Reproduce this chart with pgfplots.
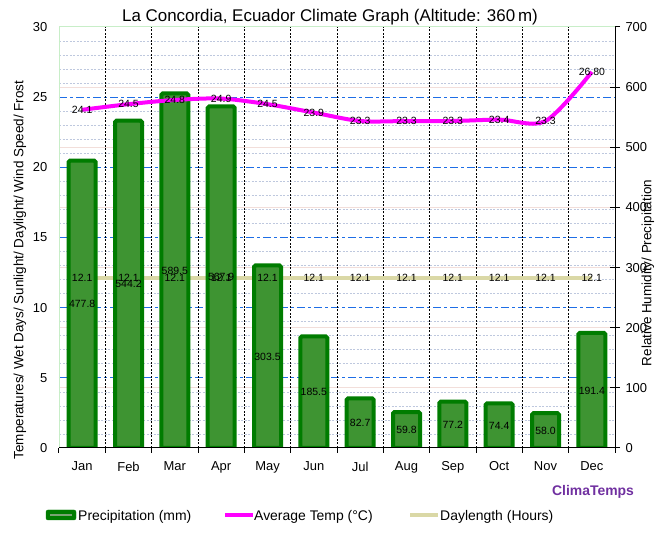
\documentclass[border=0pt]{standalone}
\usepackage{fontspec}
\setmainfont{Liberation Sans}
\usepackage{pgfplots}
\usepackage{pgfplotstable}
\pgfplotsset{compat=1.18}

\definecolor{barfill}{RGB}{62,148,50}
\definecolor{barline}{RGB}{0,124,0}
\definecolor{tempc}{RGB}{255,0,255}
\definecolor{dayc}{RGB}{218,216,166}
\definecolor{blueline}{HTML}{1E6EE6}
\definecolor{paleline}{HTML}{BEC8DE}
\definecolor{pinkline}{HTML}{F2DEDA}
\definecolor{edge}{RGB}{200,238,200}
\definecolor{brand}{RGB}{112,48,160}

\newcommand\fs[1]{\fontsize{#1}{#1}\selectfont}

% month, precipitation (mm), avg temp (C), temp label, daylength (h)
\pgfplotstableread{
i m p t tl d
0 Jan 477.8 24.1 24.1 12.1
1 Feb 544.2 24.5 24.5 12.1
2 Mar 589.5 24.8 24.8 12.1
3 Apr 567.9 24.9 24.9 12.1
4 May 303.5 24.5 24.5 12.1
5 Jun 185.5 23.9 23.9 12.1
6 Jul 82.7 23.3 23.3 12.1
7 Aug 59.8 23.3 23.3 12.1
8 Sep 77.2 23.3 23.3 12.1
9 Oct 74.4 23.4 23.4 12.1
10 Nov 58.0 23.3 23.3 12.1
11 Dec 191.4 26.8 26.80 12.1
}\climate

\begin{document}
\begin{tikzpicture}
\useasboundingbox (0,0) rectangle (661bp,558bp);
\pgfplotsset{base/.style={
  scale only axis, width=556bp, height=421bp,
  at={(59bp,110bp)}, anchor=south west,
  xmin=-0.5, xmax=11.5,
  tick label style={font=\fs{13}},
  /pgf/number format/assume math mode=true,
}}

% left scale: grid lines, months, separators, daylength line
\begin{axis}[base,
  ymin=0, ymax=30, ytick={0,5,...,30},
  ytick pos=left, major y tick style={draw=none},
  yticklabel style={anchor=east, xshift=-4bp},
  xtick={0,...,11}, xticklabels={Jan,Feb,Mar,Apr,May,Jun,Jul,Aug,Sep,Oct,Nov,Dec},
  xticklabel style={yshift=-6bp},
  major x tick style={draw=none},
  minor xtick={-0.5,0.5,...,11.5}, minor x tick style={black, line width=1bp},
  minor tick length=5bp, tick align=outside, xtick pos=bottom,
  axis line style={draw=none},
  unbounded coords=jump,
]
% minor horizontal grid (every 1 unit)
\addplot[paleline, line width=0.7bp, dash pattern=on 2bp off 1.5bp, forget plot] coordinates {
  (-0.5,1) (11.5,1) (nan,nan) (-0.5,2) (11.5,2) (nan,nan) (-0.5,3) (11.5,3) (nan,nan)
  (-0.5,4) (11.5,4) (nan,nan) (-0.5,6) (11.5,6) (nan,nan) (-0.5,7) (11.5,7) (nan,nan)
  (-0.5,8) (11.5,8) (nan,nan) (-0.5,9) (11.5,9) (nan,nan) (-0.5,11) (11.5,11) (nan,nan)
  (-0.5,12) (11.5,12) (nan,nan) (-0.5,13) (11.5,13) (nan,nan) (-0.5,14) (11.5,14) (nan,nan)
  (-0.5,16) (11.5,16) (nan,nan) (-0.5,17) (11.5,17) (nan,nan) (-0.5,18) (11.5,18) (nan,nan)
  (-0.5,19) (11.5,19) (nan,nan) (-0.5,21) (11.5,21) (nan,nan) (-0.5,22) (11.5,22) (nan,nan)
  (-0.5,23) (11.5,23) (nan,nan) (-0.5,24) (11.5,24) (nan,nan) (-0.5,26) (11.5,26) (nan,nan)
  (-0.5,27) (11.5,27) (nan,nan) (-0.5,28) (11.5,28) (nan,nan) (-0.5,29) (11.5,29)
};
% faint lines at the right-scale hundreds (100..600 of 700)
\addplot[pinkline, line width=0.8bp, forget plot] coordinates {
  (-0.5,4.2857) (11.5,4.2857) (nan,nan) (-0.5,8.5714) (11.5,8.5714) (nan,nan)
  (-0.5,12.857) (11.5,12.857) (nan,nan) (-0.5,17.143) (11.5,17.143) (nan,nan)
  (-0.5,21.429) (11.5,21.429) (nan,nan) (-0.5,25.714) (11.5,25.714)
};
% major dash-dot grid
\addplot[blueline, line width=1.2bp, dash pattern=on 8bp off 3bp on 3bp off 3bp, forget plot] coordinates {
  (-0.5,5) (11.5,5) (nan,nan) (-0.5,10) (11.5,10) (nan,nan) (-0.5,15) (11.5,15) (nan,nan)
  (-0.5,20) (11.5,20) (nan,nan) (-0.5,25) (11.5,25)
};
\pgfplotsinvokeforeach{0.5,1.5,...,10.5}{
  \draw[black, line width=0.9bp, dash pattern=on 2bp off 1.5bp] (axis cs:#1,0) -- (axis cs:#1,30);
}
\addplot[dayc, line width=4bp] table[x=i, y=d]{\climate};
\end{axis}

% right scale: precipitation bars
\begin{axis}[base,
  ymin=0, ymax=700, ytick={0,100,...,700},
  axis y line*=right, axis x line=none,
  y axis line style={black, line width=1bp, -},
  major tick length=10bp, tick align=center,
  major y tick style={black, line width=1bp},
  yticklabel style={anchor=west, xshift=2bp},
]
\addplot[ybar, bar width=27bp, fill=barfill, draw=barline, line width=4bp, rounded corners=1.5bp]
  table[x=i, y=p]{\climate};
\addplot[draw=none, mark=none, nodes near coords={\pgfmathprintnumber[fixed, fixed zerofill, precision=1]{\pgfplotspointmeta}},
  nodes near coords align=center,
  every node near coord/.append style={font=\fs{10.5}, inner sep=0pt, anchor=center}, point meta=explicit]
  table[x=i, y expr=\thisrow{p}/2, meta=p]{\climate};
\end{axis}

% left scale again: temperature line and labels on top
\begin{axis}[base, ymin=0, ymax=30, hide axis]
\addplot[tempc, line width=4bp, smooth, tension=0.5] table[x=i, y=t]{\climate};
\addplot[draw=none, mark=none, nodes near coords, nodes near coords align=center,
  every node near coord/.append style={font=\fs{10.5}, inner sep=0pt, anchor=center}, point meta=explicit symbolic]
  table[x=i, y=t, meta=tl]{\climate};
\addplot[draw=none, mark=none, nodes near coords, nodes near coords align=center,
  every node near coord/.append style={font=\fs{10.5}, inner sep=0pt, anchor=center}, point meta=explicit symbolic]
  table[x=i, y=d, meta=d]{\climate};
\end{axis}

% frame
\draw[edge, line width=1bp] (59bp,110bp) -- (59bp,531bp) -- (615bp,531bp);
\draw[black, line width=1bp] (59bp,110bp) -- (615bp,110bp);

% titles
\node[font=\fs{17}] at (330bp,541bp) {La Concordia, Ecuador Climate Graph (Altitude: 360\,m)};
\node[font=\fs{13.5}, rotate=90] at (20bp,288bp) {Temperatures/ Wet Days/ Sunlight/ Daylight/ Wind Speed/ Frost};
\node[font=\fs{13.5}, rotate=90] at (648bp,285bp) {Relative Humidity/ Precipitation};
\node[font=\fs{14}\bfseries, text=brand] at (593bp,66bp) {ClimaTemps};

% legend
\draw[barline, fill=barline, rounded corners=2bp] (46bp,38bp) rectangle (76bp,48bp);
\draw[barfill!60!gray!80, line width=2.5bp] (50bp,43bp) -- (72bp,43bp);
\node[font=\fs{14}, anchor=base west, inner sep=0pt] at (78bp,38bp) {Precipitation (mm)};
\draw[tempc, line width=4bp] (225bp,43bp) -- (253bp,43bp);
\node[font=\fs{14}, anchor=base west, inner sep=0pt] at (254bp,38bp) {Average Temp (°C)};
\draw[dayc, line width=4bp] (410bp,43bp) -- (438bp,43bp);
\node[font=\fs{14}, anchor=base west, inner sep=0pt] at (440bp,38bp) {Daylength (Hours)};
\end{tikzpicture}
\end{document}
